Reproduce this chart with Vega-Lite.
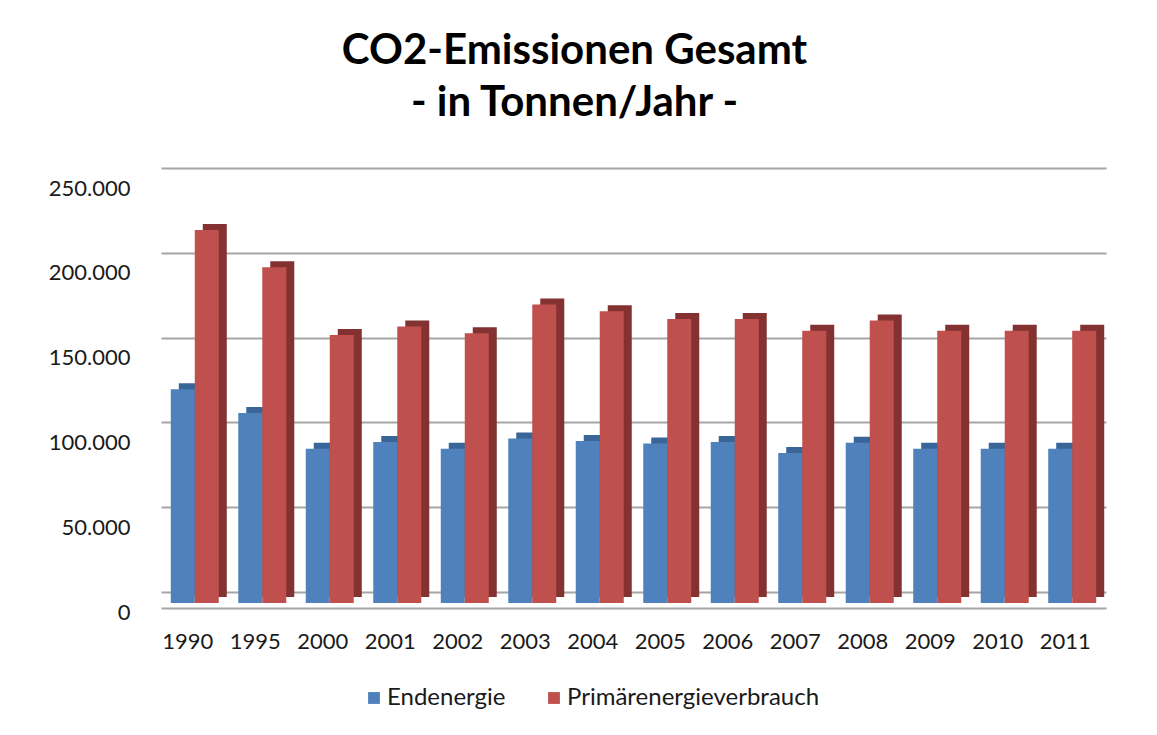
{
  "$schema": "https://vega.github.io/schema/vega-lite/v6.json",
  "width": 945,
  "height": 424,
  "autosize": "none",
  "padding": {"left": 161, "top": 179, "right": 51, "bottom": 132},
  "background": "white",
  "config": {
    "font": "Lato",
    "view": {"stroke": null},
    "locale": {"number": {"decimal": ",", "thousands": ".", "grouping": [3], "currency": ["", " €"]}}
  },
  "title": {
    "text": ["CO2-Emissionen Gesamt", "- in Tonnen/Jahr -"],
    "font": "Lato",
    "fontSize": 42,
    "fontWeight": "bold",
    "color": "#000000",
    "lineHeight": 52,
    "anchor": "middle",
    "dx": -59,
    "offset": 52
  },
  "data": {
    "values": [
      {"year": "1990", "series": "Endenergie", "value": 126000},
      {"year": "1990", "series": "Primärenergieverbrauch", "value": 220000},
      {"year": "1995", "series": "Endenergie", "value": 112000},
      {"year": "1995", "series": "Primärenergieverbrauch", "value": 198000},
      {"year": "2000", "series": "Endenergie", "value": 91000},
      {"year": "2000", "series": "Primärenergieverbrauch", "value": 158000},
      {"year": "2001", "series": "Endenergie", "value": 95000},
      {"year": "2001", "series": "Primärenergieverbrauch", "value": 163000},
      {"year": "2002", "series": "Endenergie", "value": 91000},
      {"year": "2002", "series": "Primärenergieverbrauch", "value": 159000},
      {"year": "2003", "series": "Endenergie", "value": 97000},
      {"year": "2003", "series": "Primärenergieverbrauch", "value": 176000},
      {"year": "2004", "series": "Endenergie", "value": 95500},
      {"year": "2004", "series": "Primärenergieverbrauch", "value": 172000},
      {"year": "2005", "series": "Endenergie", "value": 94000},
      {"year": "2005", "series": "Primärenergieverbrauch", "value": 167500},
      {"year": "2006", "series": "Endenergie", "value": 95000},
      {"year": "2006", "series": "Primärenergieverbrauch", "value": 167500},
      {"year": "2007", "series": "Endenergie", "value": 88500},
      {"year": "2007", "series": "Primärenergieverbrauch", "value": 160500},
      {"year": "2008", "series": "Endenergie", "value": 94500},
      {"year": "2008", "series": "Primärenergieverbrauch", "value": 166500},
      {"year": "2009", "series": "Endenergie", "value": 91000},
      {"year": "2009", "series": "Primärenergieverbrauch", "value": 160500},
      {"year": "2010", "series": "Endenergie", "value": 91000},
      {"year": "2010", "series": "Primärenergieverbrauch", "value": 160500},
      {"year": "2011", "series": "Endenergie", "value": 91000},
      {"year": "2011", "series": "Primärenergieverbrauch", "value": 160500}
    ]
  },
  "encoding": {
    "x": {
      "field": "year",
      "type": "nominal",
      "sort": null,
      "scale": {"paddingInner": 0.289, "paddingOuter": 0.145},
      "axis": {
        "title": null,
        "labelAngle": 0,
        "labelFont": "Lato",
        "labelFontSize": 22,
        "labelColor": "#1a1a1a",
        "labelOffset": -7,
        "labelPadding": 23,
        "ticks": false,
        "domain": true,
        "domainColor": "#a6a6a6",
        "domainWidth": 2,
        "offset": 5
      }
    },
    "y": {
      "field": "value",
      "type": "quantitative",
      "scale": {"domain": [0, 250000], "nice": false},
      "axis": {
        "title": null,
        "values": [0, 50000, 100000, 150000, 200000, 250000],
        "format": ",d",
        "labelFont": "Lato",
        "labelFontSize": 22,
        "labelColor": "#1a1a1a",
        "labelPadding": 31,
        "tickOffset": -11,
        "labelOffset": 20,
        "labelOverlap": false,
        "ticks": false,
        "domain": false,
        "grid": true,
        "gridColor": "#a6a6a6",
        "gridWidth": 2
      }
    }
  },
  "layer": [
    {
      "transform": [{"filter": "datum.series === 'Endenergie'"}],
      "mark": {"type": "bar", "width": 24, "xOffset": -4, "yOffset": -6, "y2Offset": -6, "color": "#3a6598"},
      "encoding": {}
    },
    {
      "transform": [{"filter": "datum.series === 'Primärenergieverbrauch'"}],
      "mark": {"type": "bar", "width": 24, "xOffset": 20, "yOffset": -6, "y2Offset": -6, "color": "#833231"},
      "encoding": {}
    },
    {
      "transform": [{"filter": "datum.series === 'Endenergie'"}],
      "mark": {"type": "bar", "width": 24, "xOffset": -12},
      "encoding": {
        "color": {
          "field": "series",
          "type": "nominal",
          "scale": {"domain": ["Endenergie", "Primärenergieverbrauch"], "range": ["#4f81bd", "#c0504d"]},
          "legend": {
            "title": null,
            "orient": "none",
            "legendX": 201,
            "legendY": 507,
            "direction": "horizontal",
            "symbolType": "square",
            "symbolSize": 140,
            "symbolStrokeWidth": 0,
            "labelFont": "Lato",
            "labelFontSize": 24,
            "labelColor": "#1a1a1a",
            "labelOffset": 1,
            "labelLimit": 500,
            "columnPadding": 36
          }
        }
      }
    },
    {
      "transform": [{"filter": "datum.series === 'Primärenergieverbrauch'"}],
      "mark": {"type": "bar", "width": 24, "xOffset": 12},
      "encoding": {
        "color": {"field": "series", "type": "nominal"}
      }
    }
  ]
}
